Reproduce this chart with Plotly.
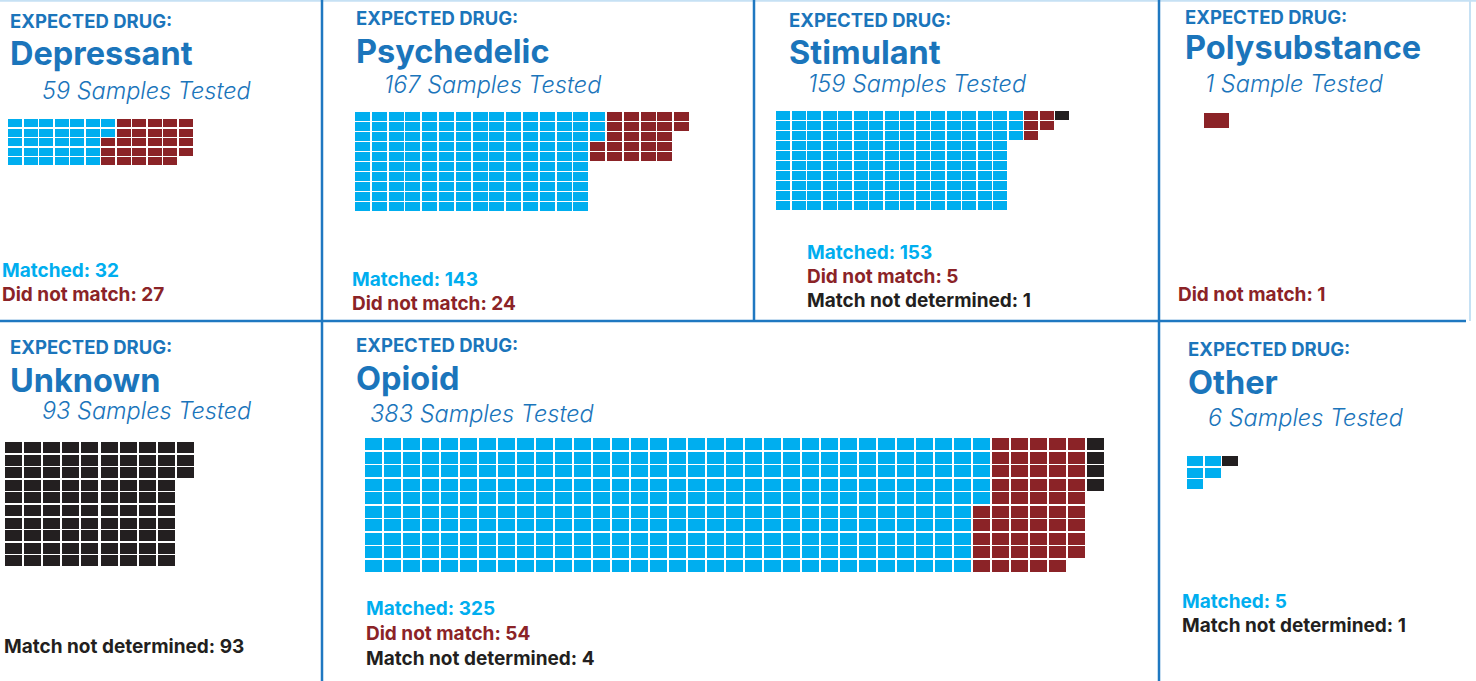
import plotly.graph_objects as go

# ---------------- data ----------------
drugs = ["Depressant", "Psychedelic", "Stimulant", "Polysubstance", "Unknown", "Opioid", "Other"]
matched = [32, 143, 153, 0, 0, 325, 5]
did_not_match = [27, 24, 5, 1, 0, 54, 0]
not_determined = [0, 0, 1, 0, 93, 4, 1]
series_names = ["Matched", "Did not match", "Match not determined"]

# ---------------- styles / layout ----------------
W, H = 1476, 681
COLORS = ["#00aeef", "#8b2327", "#231f20"]
BLUE_TXT = "#1b75bb"
LINE = "#1f78c1"
FONT = "Inter"
XOFF = 2  # annotation inner padding compensation

# grid geometry per panel: x0, y0, col pitch, row pitch, cell w, cell h, band heights per series
grid = [
    dict(x0=8, y0=119, px=15.5, py=9.6, w=14, h=8, bands=[5, 5, 5]),
    dict(x0=355, y0=112, px=16.8, py=10, w=15, h=9, bands=[10, 5, 5]),
    dict(x0=776, y0=110.7, px=15.5, py=10, w=14, h=9, bands=[10, 3, 1]),
    dict(x0=1204, y0=113, px=27, py=16, w=25, h=14.7, bands=[1, 1, 1]),
    dict(x0=5, y0=442, px=19.1, py=12.6, w=17, h=11, bands=[10, 10, 10]),
    dict(x0=365, y0=438, px=19.0, py=13.56, w=17, h=12, bands=[10, 10, 4]),
    dict(x0=1187, y0=456, px=17.5, py=11.5, w=16, h=10, bands=[3, 1, 1]),
]
# text positions per panel
texts = [
    dict(hx=10, ys=(21, 54, 90), sx=42, lx=2, ly=270, ld=24),
    dict(hx=356, ys=(18, 51, 85), sx=384, lx=352, ly=279, ld=24),
    dict(hx=789, ys=(20, 52, 84), sx=808, lx=807, ly=252, ld=24),
    dict(hx=1185, ys=(17, 48, 84), sx=1205, lx=1178, ly=294, ld=24),
    dict(hx=10, ys=(347, 380, 410), sx=42, lx=4, ly=646, ld=24),
    dict(hx=356, ys=(345, 378, 413), sx=370, lx=366, ly=608, ld=25),
    dict(hx=1188, ys=(349, 382, 417), sx=1208, lx=1182, ly=601, ld=24),
]
SIZES = dict(head=18.5, title=32.5, sub=23.5, label=19)


def waffle(counts, bands):
    """Column-major fill; each series fills columns up to its band height."""
    out = []
    col, row = 0, 0
    for n, b in zip(counts, bands):
        cells = []
        for _ in range(n):
            if row >= b:
                col += 1
                row = 0
            cells.append((col, row))
            row += 1
        out.append(cells)
    return out


fig = go.Figure()
annotations = []
layout_axes = {}

for i, drug in enumerate(drugs):
    counts = [matched[i], did_not_match[i], not_determined[i]]
    g = grid[i]
    cells = waffle(counts, g["bands"])
    allc = [c for s in cells for c in s]
    ncols = max(c for c, r in allc) + 1
    nrows = max(r for c, r in allc) + 1
    xa = "x" if i == 0 else f"x{i+1}"
    ya = "y" if i == 0 else f"y{i+1}"
    for s, sc in enumerate(cells):
        if not sc:
            continue
        fig.add_trace(go.Bar(
            x=[c + g["w"] / (2 * g["px"]) for c, r in sc],
            y=[g["h"] / g["py"]] * len(sc),
            base=[r for c, r in sc],
            width=g["w"] / g["px"],
            marker=dict(color=COLORS[s], line=dict(width=0)),
            xaxis=xa, yaxis=ya, showlegend=False, hoverinfo="skip",
        ))
    sfx = "" if i == 0 else str(i + 1)
    layout_axes[f"xaxis{sfx}"] = dict(
        domain=[g["x0"] / W, (g["x0"] + ncols * g["px"]) / W],
        range=[0, ncols], visible=False, fixedrange=True, anchor=ya)
    layout_axes[f"yaxis{sfx}"] = dict(
        domain=[1 - (g["y0"] + nrows * g["py"]) / H, 1 - g["y0"] / H],
        range=[nrows, 0], visible=False, fixedrange=True, anchor=xa)

    t = texts[i]
    total = sum(counts)
    sub = f"{total} Sample{'s' if total != 1 else ''} Tested"
    annotations.append(dict(text="EXPECTED DRUG:", x=(t["hx"] - XOFF) / W, y=1 - t["ys"][0] / H,
                            font=dict(family=FONT, size=SIZES["head"], color=BLUE_TXT, weight=700)))
    annotations.append(dict(text=drug, x=(t["hx"] - XOFF) / W, y=1 - t["ys"][1] / H,
                            font=dict(family=FONT, size=SIZES["title"], color=BLUE_TXT, weight=700)))
    annotations.append(dict(text=sub, x=(t["sx"] - XOFF) / W, y=1 - t["ys"][2] / H,
                            font=dict(family=FONT, size=SIZES["sub"], color=BLUE_TXT, weight=300,
                                      style="italic")))
    k = 0
    for s, n in enumerate(counts):
        if n == 0:
            continue
        annotations.append(dict(text=f"{series_names[s]}: {n}", x=(t["lx"] - XOFF) / W,
                                y=1 - (t["ly"] + k * t["ld"]) / H,
                                font=dict(family=FONT, size=SIZES["label"], color=COLORS[s], weight=700)))
        k += 1

for a in annotations:
    a.update(xref="paper", yref="paper", xanchor="left", yanchor="middle", showarrow=False)


def pline(x0, y0, x1, y1, color=LINE, width=2.5):
    return dict(type="line", xref="paper", yref="paper", x0=x0 / W, x1=x1 / W,
                y0=1 - y0 / H, y1=1 - y1 / H, line=dict(color=color, width=width))


shapes = [
    pline(0, 0.8, 1476, 0.8, color="#c6e1f4", width=2),
    pline(1470, 0, 1470, 321, color="#c6e1f4", width=2),
    pline(0, 321, 1466, 321),
    pline(322, 0, 322, 681),
    pline(754, 0, 754, 321),
    pline(1159, 0, 1159, 681),
]

fig.update_layout(
    width=W, height=H, margin=dict(l=0, r=0, t=0, b=0),
    paper_bgcolor="white", plot_bgcolor="rgba(0,0,0,0)",
    barmode="overlay", bargap=0,
    annotations=annotations, shapes=shapes,
    **layout_axes,
)

fig.write_html("out.html", config={"displayModeBar": False},
               post_script="document.body.style.margin='0';document.body.style.overflow='hidden';")
